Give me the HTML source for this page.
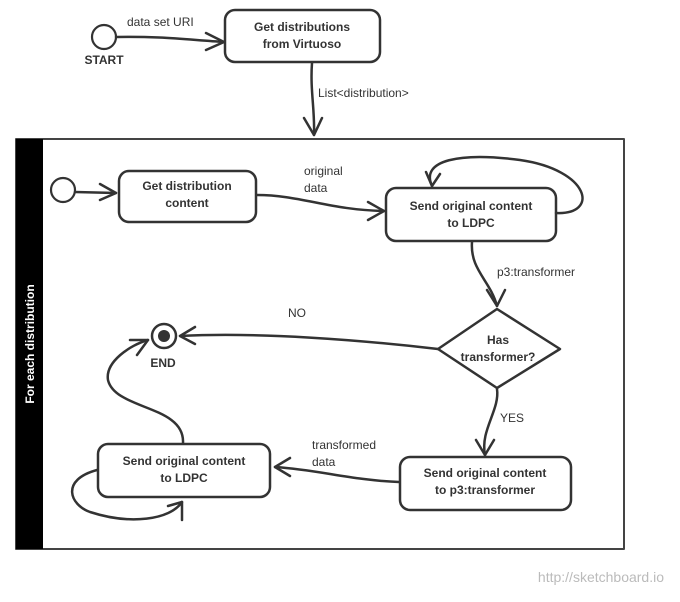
<!DOCTYPE html>
<html><head><style>
body{margin:0;background:#fff;}
svg text{font-family:"Liberation Sans",sans-serif;fill:#333;}
.b{font-weight:bold;font-size:12px;}
.l{font-size:12px;}
</style></head><body>
<svg width="680" height="597" viewBox="0 0 680 597" xmlns="http://www.w3.org/2000/svg">
<g fill="none" stroke="#333" stroke-width="2.5" stroke-linecap="round" stroke-linejoin="round">
<circle cx="104" cy="37" r="12" stroke-width="2.2"/>
<path d="M116 37 C160 36 190 40 224 42"/>
<path d="M206 33 L224 42 L206 50"/>
<rect x="225" y="10" width="155" height="52" rx="10"/>
<path d="M312 63 C310 90 315 110 314 135"/>
<path d="M304 118 L314 135 L322 118"/>
<rect x="16" y="139" width="608" height="410" stroke-width="2" stroke="#444"/>
<circle cx="63" cy="190" r="12" stroke-width="2.2"/>
<path d="M75 192 L116 193"/>
<path d="M100 184 L116 193 L100 200"/>
<rect x="119" y="171" width="137" height="51" rx="10"/>
<path d="M257 195 C300 195 330 210 384 211"/>
<path d="M368 202 L384 211 L368 220"/>
<rect x="386" y="188" width="170" height="53" rx="10"/>
<path d="M556 213 C600 215 590 170 520 160 C460 152 420 160 432 186"/>
<path d="M426 172 L432 186 L440 174"/>
<path d="M472 242 C470 270 490 280 497 306"/>
<path d="M487 290 L497 306 L505 290"/>
<polygon points="438,349 497,309 560,349 497,388"/>
<path d="M438 349 C360 340 260 332 180 336"/>
<path d="M195 327 L180 336 L195 344"/>
<circle cx="164" cy="336" r="12"/>
<circle cx="164" cy="336" r="6" fill="#333" stroke="none"/>
<path d="M497 389 C500 410 480 430 485 455"/>
<path d="M476 440 L485 455 L494 440"/>
<rect x="400" y="457" width="171" height="53" rx="10"/>
<path d="M399 482 C350 480 320 470 275 467"/>
<path d="M290 458 L275 467 L290 476"/>
<rect x="98" y="444" width="172" height="53" rx="10"/>
<path d="M183 443 C185 405 115 410 108 380 C105 362 130 345 148 340"/>
<path d="M130 340 L148 340 L137 355"/>
<path d="M97 470 C60 480 70 505 90 512 C130 525 170 520 182 502"/>
<path d="M168 506 L182 502 L182 520"/>
</g>
<rect x="16" y="139" width="27" height="410" fill="#000"/>
<text transform="translate(34,344) rotate(-90)" text-anchor="middle" class="b" style="fill:#fff">For each distribution</text>
<text x="104" y="64" text-anchor="middle" class="b">START</text>
<text x="127" y="26" class="l">data set URI</text>
<text x="302" y="31" text-anchor="middle" class="b">Get distributions</text>
<text x="302" y="48" text-anchor="middle" class="b">from Virtuoso</text>
<text x="318" y="97" class="l">List&lt;distribution&gt;</text>
<text x="187" y="190" text-anchor="middle" class="b">Get distribution</text>
<text x="187" y="207" text-anchor="middle" class="b">content</text>
<text x="304" y="175" class="l">original</text>
<text x="304" y="192" class="l">data</text>
<text x="471" y="210" text-anchor="middle" class="b">Send original content</text>
<text x="471" y="227" text-anchor="middle" class="b">to LDPC</text>
<text x="497" y="276" class="l">p3:transformer</text>
<text x="498" y="344" text-anchor="middle" class="b">Has</text>
<text x="498" y="361" text-anchor="middle" class="b">transformer?</text>
<text x="288" y="317" class="l">NO</text>
<text x="163" y="367" text-anchor="middle" class="b">END</text>
<text x="500" y="422" class="l">YES</text>
<text x="485" y="477" text-anchor="middle" class="b">Send original content</text>
<text x="485" y="494" text-anchor="middle" class="b">to p3:transformer</text>
<text x="312" y="449" class="l">transformed</text>
<text x="312" y="466" class="l">data</text>
<text x="184" y="465" text-anchor="middle" class="b">Send original content</text>
<text x="184" y="482" text-anchor="middle" class="b">to LDPC</text>
<text x="664" y="582" text-anchor="end" style="font-size:14px;fill:#bbb">http://sketchboard.io</text>
</svg>
</body></html>
